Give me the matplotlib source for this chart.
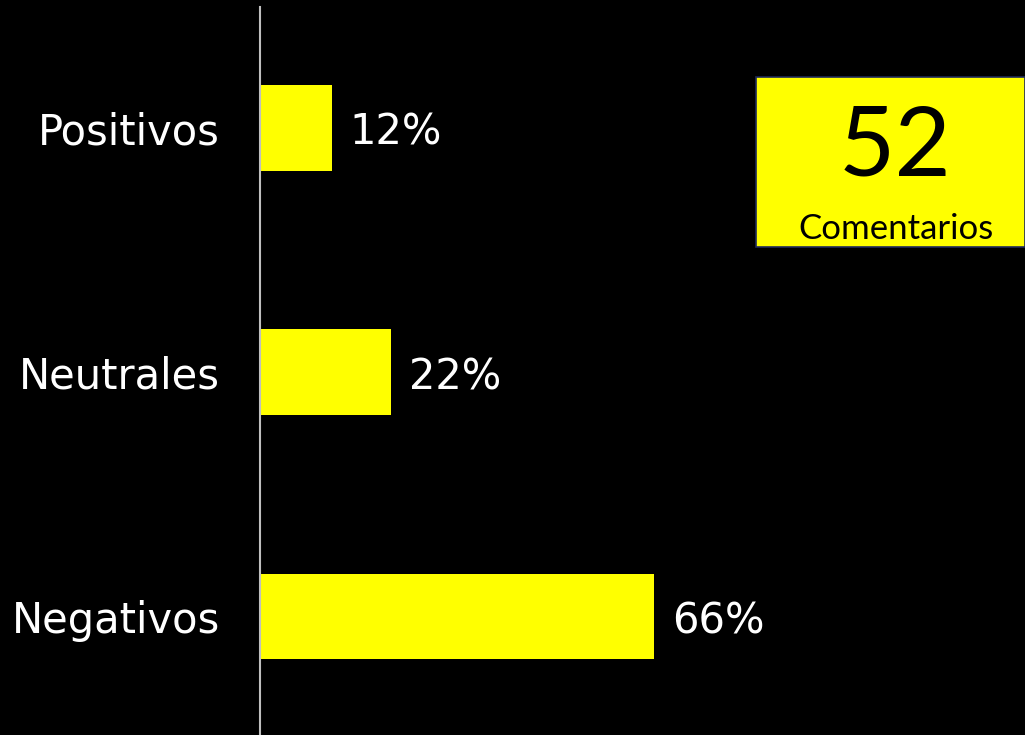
import matplotlib.pyplot as plt
from matplotlib.patches import Rectangle

categories = ['Positivos', 'Neutrales', 'Negativos']
values = [12, 22, 66]
value_labels = ['12%', '22%', '66%']
total_comments = 52
total_label = 'Comentarios'

bg = 'black'
bar_color = '#ffff00'

fig = plt.figure(figsize=(10.25, 7.35), dpi=100, facecolor=bg)
ax = fig.add_axes([260 / 1025, 0, 1 - 260 / 1025, 728 / 735], facecolor=bg)

y = range(len(categories))
bars = ax.barh(y, values, height=0.35, color=bar_color)

ax.set_xlim(0, 128)
ax.set_ylim(2.485, -0.495)

for spine in ['top', 'right', 'bottom']:
    ax.spines[spine].set_visible(False)
ax.spines['left'].set_color('#bfbfbf')
ax.spines['left'].set_linewidth(1.5)

ax.set_xticks([])
ax.set_yticks(list(y))
ax.set_yticklabels(categories, color='white', fontsize=30, family='DejaVu Sans')
ax.tick_params(axis='y', length=0, pad=29)

for bar, lab in zip(bars, value_labels):
    ax.annotate(lab, (bar.get_width(), bar.get_y() + bar.get_height() / 2),
                xytext=(18, -5), textcoords='offset pixels',
                ha='left', va='center', color='white', fontsize=30)

# total box in upper right
fig.patches.append(Rectangle((756 / 1025, 1 - 247 / 735), 1 - 756 / 1025, 170 / 735,
                             transform=fig.transFigure, facecolor=bar_color,
                             edgecolor='#1f2a5a', linewidth=1.2))
fig.text(895 / 1025, 1 - 149 / 735, str(total_comments), ha='center', va='center',
         fontsize=70, family='Lato', color='black')
fig.text(896 / 1025, 1 - 229 / 735, total_label, ha='center', va='center',
         fontsize=25, family='Lato', color='black')

fig.savefig('out.png', dpi=100, facecolor=bg)
